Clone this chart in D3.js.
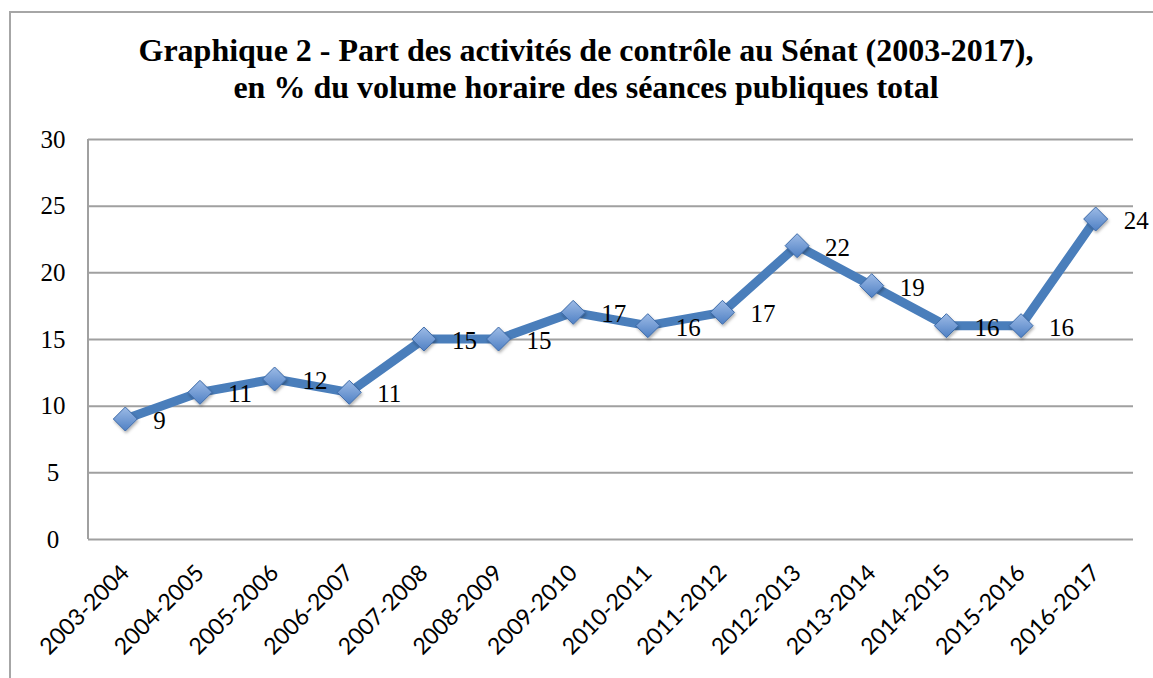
<!DOCTYPE html>
<html>
<head>
<meta charset="utf-8">
<script src="https://cdn.jsdelivr.net/npm/d3@7"></script>
<style>
  body { margin: 0; background: #fff; }
  svg { display: block; }
</style>
</head>
<body>
<svg id="chart"></svg>
<script>
const categories = ['2003-2004', '2004-2005', '2005-2006', '2006-2007', '2007-2008', '2008-2009', '2009-2010',
  '2010-2011', '2011-2012', '2012-2013', '2013-2014', '2014-2015', '2015-2016', '2016-2017'];
const values = [9, 11, 12, 11, 15, 15, 17, 16, 17, 22, 19, 16, 16, 24];
const yTicks = [0, 5, 10, 15, 20, 25, 30];
const titleLines = ['Graphique 2 - Part des activités de contrôle au Sénat (2003-2017),',
  'en % du volume horaire des séances publiques total'];

const width = 1153;
const height = 678;
const plot = { left: 88, top: 139, right: 1133, bottom: 539 };

const svg = d3.select('#chart')
  .attr('width', width)
  .attr('height', height);

const defs = svg.append('defs');
const grad = defs.append('linearGradient')
  .attr('id', 'diamondFill')
  .attr('x1', '0').attr('y1', '0').attr('x2', '0').attr('y2', '1');
grad.append('stop').attr('offset', '0%').attr('stop-color', '#9dbbe6');
grad.append('stop').attr('offset', '100%').attr('stop-color', '#4f80c4');

const shadow = defs.append('filter').attr('id', 'shadow')
  .attr('x', '-50%').attr('y', '-50%').attr('width', '200%').attr('height', '200%');
shadow.append('feDropShadow')
  .attr('dx', 1).attr('dy', 2).attr('stdDeviation', 1.5)
  .attr('flood-color', '#000').attr('flood-opacity', 0.3);

// outer frame
svg.append('rect')
  .attr('x', 10).attr('y', 12)
  .attr('width', width + 20).attr('height', height + 20)
  .attr('fill', 'none')
  .attr('stroke', '#a6a6a6')
  .attr('stroke-width', 2);

// title
svg.append('text')
  .attr('text-anchor', 'middle')
  .attr('font-family', '"Liberation Serif", serif')
  .attr('font-weight', 'bold')
  .attr('font-size', 32)
  .selectAll('tspan')
  .data(titleLines)
  .join('tspan')
  .attr('x', 586)
  .attr('y', (d, i) => 61 + i * 37)
  .text(d => d);

const xScale = d3.scaleBand()
  .domain(categories)
  .range([plot.left, plot.right]);

const yScale = d3.scaleLinear()
  .domain([0, 30])
  .range([plot.bottom, plot.top]);

// gridlines + y axis
const yAxis = d3.axisLeft(yScale)
  .tickValues(yTicks)
  .tickSize(-(plot.right - plot.left))
  .tickPadding(22);

const yG = svg.append('g')
  .attr('transform', `translate(${plot.left},0)`)
  .call(yAxis);
yG.select('.domain').remove();
yG.selectAll('.tick line')
  .attr('stroke', '#a0a0a0')
  .attr('stroke-width', 2);
yG.selectAll('.tick text')
  .attr('font-family', '"Liberation Serif", serif')
  .attr('font-size', 25)
  .attr('fill', '#000')
  .attr('text-anchor', 'middle')
  .attr('dx', -13);

// left axis line
svg.append('line')
  .attr('x1', plot.left).attr('x2', plot.left)
  .attr('y1', plot.top).attr('y2', plot.bottom)
  .attr('stroke', '#a0a0a0')
  .attr('stroke-width', 2);

// x axis labels
const xAxis = d3.axisBottom(xScale).tickSize(0).tickPadding(0);
const xG = svg.append('g')
  .attr('transform', `translate(0,${plot.bottom})`)
  .call(xAxis);
xG.select('.domain').remove();
xG.selectAll('.tick text')
  .attr('font-family', 'Lato, "Open Sans", sans-serif')
  .attr('font-size', 23)
  .attr('fill', '#000')
  .attr('text-anchor', 'end')
  .attr('dy', '0.7em')
  .attr('transform', 'translate(-6,24) rotate(-45)');

// line
const line = d3.line()
  .x((d, i) => xScale(categories[i]) + xScale.bandwidth() / 2)
  .y(d => yScale(d));

svg.append('path')
  .datum(values)
  .attr('d', line)
  .attr('fill', 'none')
  .attr('stroke', '#4a7ebb')
  .attr('stroke-width', 9)
  .attr('stroke-linejoin', 'round');

// markers
svg.append('g')
  .selectAll('path')
  .data(values)
  .join('path')
  .attr('d', 'M0,-12L12,0L0,12L-12,0Z')
  .attr('transform', (d, i) => `translate(${xScale(categories[i]) + xScale.bandwidth() / 2},${yScale(d)})`)
  .attr('fill', 'url(#diamondFill)')
  .attr('stroke', '#3c6aa8')
  .attr('stroke-width', 1)
  .attr('filter', 'url(#shadow)');

// data labels
svg.append('g')
  .selectAll('text')
  .data(values)
  .join('text')
  .attr('x', (d, i) => xScale(categories[i]) + xScale.bandwidth() / 2 + 28)
  .attr('y', d => yScale(d) + 10)
  .attr('font-family', '"Liberation Serif", serif')
  .attr('font-size', 25)
  .attr('fill', '#000')
  .text(d => d);
</script>
</body>
</html>
